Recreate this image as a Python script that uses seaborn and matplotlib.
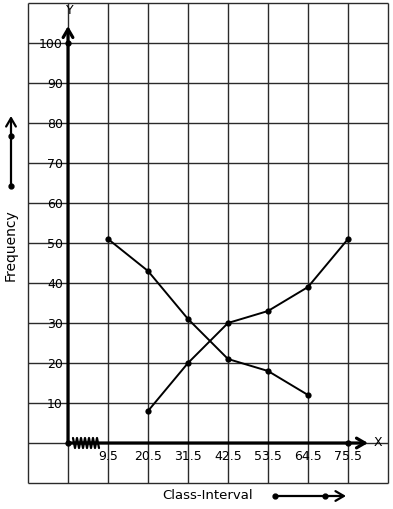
import numpy as np
import pandas as pd
import matplotlib.pyplot as plt
import seaborn as sns

# Ogive data (class boundaries and cumulative frequencies)
less_x = [20.5, 31.5, 42.5, 53.5, 64.5, 75.5]
less_y = [8, 20, 30, 33, 39, 51]
more_x = [9.5, 20.5, 31.5, 42.5, 53.5, 64.5]
more_y = [51, 43, 31, 21, 18, 12]
x_ticks = [9.5, 20.5, 31.5, 42.5, 53.5, 64.5, 75.5]
y_ticks = [10, 20, 30, 40, 50, 60, 70, 80, 90, 100]

sns.set_style('white')
plt.rcParams['font.family'] = ['DejaVu Sans']
plt.rcParams['text.color'] = 'black'

# pixel layout helpers (393x510 canvas, origin drawn at px 68,444)
X0 = 9.5 - 11          # value sitting on the y-axis
def px_x(p):
    return X0 + (p - 68) * 11 / 40
def px_y(p):
    return (444 - p) / 4

fig = plt.figure(figsize=(3.93, 5.10), dpi=100)
ax = fig.add_axes([0, 0, 1, 1])
ax.set_xlim(px_x(0), px_x(393))
ax.set_ylim(px_y(510), px_y(0))
ax.axis('off')

# graph paper grid
grid_x = [X0 - 11 + 11 * k for k in range(10)]
grid_y = [-10 + 10 * k for k in range(13)]
ax.vlines(grid_x, grid_y[0], grid_y[-1], color='#2a2a2a', lw=1.0, zorder=1)
ax.hlines(grid_y, grid_x[0], grid_x[-1], color='#2a2a2a', lw=1.0, zorder=1)

# axes with arrows
arrow = dict(arrowstyle='->, head_length=0.6, head_width=0.35', lw=2.3,
             color='black', shrinkA=0, shrinkB=0, mutation_scale=10)
ax.annotate('', xy=(X0, px_y(27)), xytext=(X0, 0), arrowprops=arrow, zorder=3)
ax.annotate('', xy=(px_x(368), 0), xytext=(X0, 0), arrowprops=arrow, zorder=3)
ax.text(px_x(70), px_y(11), 'Y', ha='center', va='center', fontsize=9)
ax.text(px_x(378), px_y(443), 'X', ha='center', va='center', fontsize=9)

# axis break zigzag
zz_x = [px_x(73 + 2.0 * k) for k in range(14)]
zz_y = [px_y(444 + (5 if k % 2 else -5)) for k in range(14)]
ax.plot(zz_x, zz_y, color='black', lw=1.6, zorder=4)

ax.plot([X0, X0, 75.5], [0, 100, 0], 'o', color='black', ms=3.5, zorder=5)

# ogives
df = pd.concat([
    pd.DataFrame({'x': less_x, 'y': less_y, 'kind': 'less'}),
    pd.DataFrame({'x': more_x, 'y': more_y, 'kind': 'more'}),
])
sns.lineplot(data=df, x='x', y='y', units='kind', estimator=None, color='black',
             lw=1.4, marker='o', markersize=4.5, markeredgewidth=0, ax=ax, zorder=5)

# tick labels
for v in y_ticks:
    ax.text(px_x(63), v, str(v), ha='right', va='center', fontsize=9,
            zorder=2)
for v in x_ticks:
    ax.text(v, px_y(457), str(v), ha='center', va='center', fontsize=9)

# axis titles with decorative arrows
ax.text(px_x(11), px_y(245), 'Frequency', rotation=90, ha='center', va='center',
        fontsize=10)
ax.annotate('', xy=(px_x(11), px_y(117)), xytext=(px_x(11), px_y(187)),
            arrowprops=dict(arrow, lw=1.6))
ax.plot([px_x(11), px_x(11)], [px_y(187), px_y(137)], 'o', color='black', ms=3.5)

ax.text(px_x(208), px_y(496), 'Class-Interval', ha='center', va='center',
        fontsize=9.5)
ax.annotate('', xy=(px_x(346), px_y(497)), xytext=(px_x(275), px_y(497)),
            arrowprops=dict(arrow, lw=1.6))
ax.plot([px_x(275), px_x(325)], [px_y(497), px_y(497)], 'o', color='black', ms=3.5)

fig.savefig('out.png', dpi=100)
